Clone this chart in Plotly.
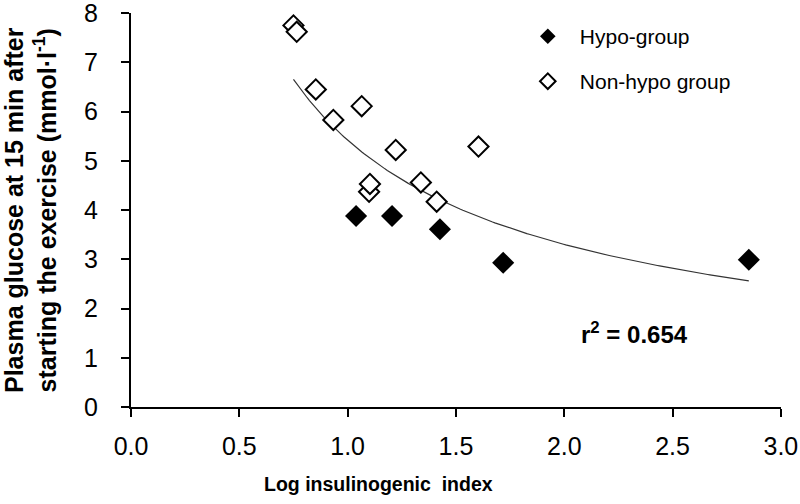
import numpy as np
import plotly.graph_objects as go

# Data
hypo_x = [1.039, 1.205, 1.426, 1.718, 2.852]
hypo_y = [3.88, 3.88, 3.61, 2.93, 2.99]

nonhypo_x = [0.750, 0.765, 0.853, 0.934, 1.065, 1.099, 1.103, 1.222, 1.338, 1.411, 1.604]
nonhypo_y = [7.75, 7.62, 6.45, 5.83, 6.11, 4.37, 4.53, 5.22, 4.56, 4.17, 5.29]

x_ticks = [0.0, 0.5, 1.0, 1.5, 2.0, 2.5, 3.0]
y_ticks = [0, 1, 2, 3, 4, 5, 6, 7, 8]

r2_text = "r<sup>2</sup> = 0.654"

# Power trendline (least squares on log-log, as a spreadsheet power fit does)
all_x = np.array(hypo_x + nonhypo_x)
all_y = np.array(hypo_y + nonhypo_y)
b, ln_a = np.polyfit(np.log(all_x), np.log(all_y), 1)
fit_x = np.linspace(all_x.min(), all_x.max(), 200)
fit_y = np.exp(ln_a) * fit_x ** b

FONT = "Liberation Sans, Arial, sans-serif"

fig = go.Figure()
fig.add_trace(go.Scatter(x=fit_x, y=fit_y, mode="lines",
                         line=dict(color="#333333", width=1.2),
                         showlegend=False, hoverinfo="skip"))
fig.add_trace(go.Scatter(x=nonhypo_x, y=nonhypo_y, mode="markers", name="Non-hypo group",
                         marker=dict(symbol="diamond", size=15.5, color="white",
                                     line=dict(color="black", width=2)),
                         legend="legend2"))
fig.add_trace(go.Scatter(x=hypo_x, y=hypo_y, mode="markers", name="Hypo-group",
                         marker=dict(symbol="diamond", size=17, color="black",
                                     line=dict(width=0)),
                         legend="legend"))

legend_common = dict(font=dict(family=FONT, size=21, color="black"),
                     bgcolor="rgba(0,0,0,0)", itemsizing="constant",
                     xanchor="left", yanchor="middle", itemwidth=54)

fig.update_layout(
    width=800, height=504,
    margin=dict(l=131, r=19, t=13, b=97, autoexpand=False),
    paper_bgcolor="white", plot_bgcolor="white",
    font=dict(family=FONT, color="black"),
    legend=dict(x=0.592, y=0.94, **legend_common),
    legend2=dict(x=0.592, y=0.826, **legend_common),
    xaxis=dict(range=[0, 3.0005], tickvals=x_ticks, ticktext=[f"{v:.1f}" for v in x_ticks],
               showline=True, linecolor="black", linewidth=2,
               ticks="outside", ticklen=8, tickwidth=2, tickcolor="black",
               showgrid=False, zeroline=False, automargin=False,
               ticklabeloverflow="allow",
               tickfont=dict(family=FONT, size=25, color="black"),
               ticklabelstandoff=8),
    yaxis=dict(range=[0, 8.002], tickvals=y_ticks,
               showline=True, linecolor="black", linewidth=2,
               ticks="outside", ticklen=8, tickwidth=2, tickcolor="black",
               showgrid=False, zeroline=False, automargin=False,
               ticklabeloverflow="allow",
               tickfont=dict(family=FONT, size=25, color="black"),
               ticklabelstandoff=18),
    annotations=[
        dict(text="<b>Log insulinogenic  index</b>", xref="paper", yref="paper",
             x=(378 - 131) / 650, y=(407 - 484) / 394, xanchor="center", yanchor="middle",
             showarrow=False,
             font=dict(family=FONT, size=19.5, color="black")),
        dict(text="<b>Plasma glucose at 15 min after<br>starting the exercise (mmol·l<sup>-1</sup>)</b>",
             xref="paper", yref="paper", x=(30 - 131) / 650, y=0.5,
             xanchor="center", yanchor="middle", textangle=-90, showarrow=False,
             font=dict(family=FONT, size=25, color="black")),
        dict(text="<b>" + r2_text + "</b>", xref="paper", yref="paper",
             x=(634 - 131) / 650, y=(407 - 333) / 394, xanchor="center", yanchor="middle",
             showarrow=False, font=dict(family=FONT, size=24, color="black")),
    ],
)

fig.write_html("out.html", config={"displayModeBar": False},
               post_script="document.body.style.margin='0';")
